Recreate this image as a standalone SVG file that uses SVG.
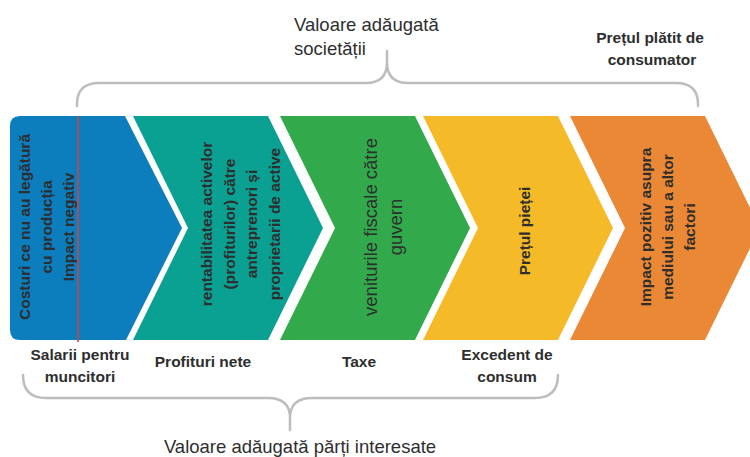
<svg xmlns="http://www.w3.org/2000/svg" width="750" height="457" viewBox="0 0 750 457">
<style>
  .lbl{font-family:"Liberation Sans",Arial,sans-serif;fill:#2e2e2e}
  .b{font-weight:bold}
  .in{font-size:15.5px;text-anchor:middle}
  .brace{fill:none;stroke:#bdbdbd;stroke-width:2.5;stroke-linecap:round}
</style>
<rect width="750" height="457" fill="#ffffff"/>

<g id="node-costuri">
  <path d="M20,116 L125,116 L182,228 L126,340 L20,340 Q10,340 10,330 L10,126 Q10,116 20,116 Z" fill="#0C7DBD"/>
  <text class="lbl b in" transform="translate(30,227) rotate(-90)"><tspan x="0" y="0">Costuri ce nu au legătură</tspan><tspan x="0" y="22">cu producția</tspan><tspan x="0" y="44">Impact negativ</tspan></text>
  <line x1="78" y1="116" x2="78" y2="342" stroke="#D9413A" stroke-width="1.6"/>
</g>

<g id="node-rentabilitate">
  <path d="M133,116 L268,116 L323,228 L268,340 L133,340 L188,228 Z" fill="#0AA092"/>
  <text class="lbl b in" transform="translate(212,224) rotate(-90)"><tspan x="0" y="0">rentabilitatea activelor</tspan><tspan x="0" y="22.7">(profiturilor) către</tspan><tspan x="0" y="45.4">antreprenori și</tspan><tspan x="0" y="68">proprietarii de active</tspan></text>
</g>

<g id="node-venituri">
  <path d="M280,116 L415,116 L470,228 L415,340 L280,340 L335,228 Z" fill="#32AA4C"/>
  <text class="lbl" text-anchor="middle" font-size="18.5" transform="translate(377,227) rotate(-90)"><tspan x="0" y="0">veniturile fiscale către</tspan><tspan x="0" y="25">guvern</tspan></text>
</g>

<g id="node-pret">
  <path d="M423,116 L558,116 L613,228 L558,340 L423,340 L478,228 Z" fill="#F5BA27"/>
  <text class="lbl b in" transform="translate(530,231) rotate(-90)">Prețul pieței</text>
</g>

<g id="node-impact">
  <path d="M570,116 L705,116 L760,228 L705,340 L570,340 L625,228 Z" fill="#EA8836"/>
  <text class="lbl b in" transform="translate(651,227) rotate(-90)"><tspan x="0" y="0">Impact pozitiv asupra</tspan><tspan x="0" y="22">mediului sau a altor</tspan><tspan x="0" y="44">factori</tspan></text>
</g>

<g id="connectors">
  <path class="brace" d="M77,106 L77,104 Q77,83 99,83 L366,83 Q387,83 387,62 L387,51 M387,62 Q387,83 408,83 L676,83 Q698,83 698,104 L698,106"/>
  <path class="brace" d="M23,375 Q23,398 46,398 L268,398 Q290,398 290,418 L290,430 M290,418 Q290,398 312,398 L535,398 Q558,398 558,375"/>
</g>

<g id="label-societate">
  <text class="lbl" font-size="18.5" x="294" y="31">Valoare adăugată</text>
  <text class="lbl" font-size="18.5" x="294" y="55">societății</text>
</g>
<g id="label-consumator">
  <text class="lbl b" font-size="15.5" text-anchor="middle" x="650" y="43">Prețul plătit de</text>
  <text class="lbl b" font-size="15.5" text-anchor="middle" x="652" y="65">consumator</text>
</g>
<g id="label-salarii">
  <text class="lbl b" font-size="15.5" text-anchor="middle" x="80" y="360">Salarii pentru</text>
  <text class="lbl b" font-size="15.5" text-anchor="middle" x="80" y="382">muncitori</text>
</g>
<g id="label-profituri">
  <text class="lbl b" font-size="15.5" text-anchor="middle" x="203" y="367">Profituri nete</text>
</g>
<g id="label-taxe">
  <text class="lbl b" font-size="15.5" text-anchor="middle" x="359" y="367">Taxe</text>
</g>
<g id="label-excedent">
  <text class="lbl b" font-size="15.5" text-anchor="middle" x="507" y="360">Excedent de</text>
  <text class="lbl b" font-size="15.5" text-anchor="middle" x="507" y="382">consum</text>
</g>
<g id="label-parti">
  <text class="lbl" font-size="18.5" text-anchor="middle" x="300" y="453">Valoare adăugată părți interesate</text>
</g>
</svg>
